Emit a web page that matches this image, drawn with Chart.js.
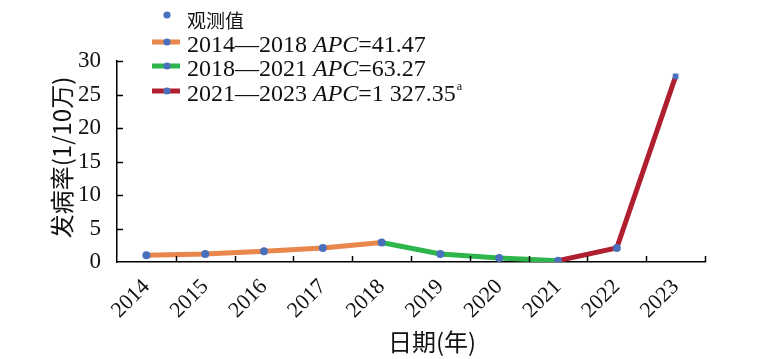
<!DOCTYPE html>
<html>
<head>
<meta charset="utf-8">
<script src="https://cdn.jsdelivr.net/npm/chart.js@4.4.1/dist/chart.umd.min.js"></script>
<style>
  html, body { margin: 0; padding: 0; background: #fff; }
  #wrap { width: 772px; height: 359px; position: relative; }
</style>
</head>
<body>
<div id="wrap"><canvas id="c"></canvas></div>
<script>
// ---- data ----
const years = ['2014', '2015', '2016', '2017', '2018', '2019', '2020', '2021', '2022', '2023'];
const observed = [1.0, 1.2, 1.6, 2.1, 2.9, 1.2, 0.6, 0.2, 2.1, 27.7];
const yTicks = [0, 5, 10, 15, 20, 25, 30];
const segmentPeriods = ['2014—2018', '2018—2021', '2021—2023'];
const segmentAPC = ['41.47', '63.27', '1 327.35'];
const segmentNote = ['', '', 'a'];
const segmentStart = [0, 4, 7];
const segmentEnd = [4, 7, 9];
const observedLabel = '观测值';
const xTitle = '日期(年)';
const yTitle = '发病率(1/10万)';

// ---- styles ----
const BLUE = '#4a70bd';
const SEG_COLORS = ['#e8864c', '#2eb54c', '#b01f30'];
const SERIF = '"Liberation Serif", "Noto Sans CJK SC", serif';
const CJK = '"Noto Sans CJK SC", "Liberation Serif", sans-serif';

const segDatasets = segmentPeriods.map((p, i) => ({
  type: 'line',
  label: p,
  data: observed.map((v, k) => (k >= segmentStart[i] && k <= segmentEnd[i]) ? v : null),
  borderColor: SEG_COLORS[i],
  backgroundColor: SEG_COLORS[i],
  borderWidth: 5,
  pointRadius: 0,
  tension: 0,
  spanGaps: false,
  order: 1 + i
}));

const obsDataset = {
  type: 'line',
  label: observedLabel,
  data: observed,
  showLine: false,
  pointStyle: observed.map((v, k) => k === observed.length - 1 ? 'rect' : 'circle'),
  pointRadius: 4,
  pointBackgroundColor: BLUE,
  pointBorderWidth: 0,
  order: 0
};

const decor = {
  id: 'decor',
  afterDraw(chart) {
    const ctx = chart.ctx;
    const xs = chart.scales.x, ys = chart.scales.y;
    const ca = chart.chartArea;
    ctx.save();
    // inward tick marks
    ctx.strokeStyle = '#000';
    ctx.lineWidth = 1.5;
    ys.ticks.forEach(t => {
      if (t.value === 0) return;
      const py = Math.round(ys.getPixelForValue(t.value)) + 0.5;
      ctx.beginPath(); ctx.moveTo(ca.left, py); ctx.lineTo(ca.left + 6, py); ctx.stroke();
    });
    const n = years.length;
    for (let k = 1; k <= n; k++) {
      const px = Math.round(xs.left + k * xs.width / n) + 0.5;
      ctx.beginPath(); ctx.moveTo(px, ca.bottom); ctx.lineTo(px, ca.bottom - 6); ctx.stroke();
    }
    // axis titles
    ctx.fillStyle = '#111';
    ctx.font = '24px ' + CJK;
    ctx.textAlign = 'center';
    ctx.textBaseline = 'middle';
    ctx.fillText(xTitle, (ca.left + ca.right) / 2 + 21, 342);
    ctx.save();
    ctx.translate(62, (ca.top + ca.bottom) / 2 - 4);
    ctx.rotate(-Math.PI / 2);
    ctx.font = '24px ' + CJK;
    ctx.fillText(yTitle, 0, 0);
    ctx.restore();

    // legend
    ctx.textAlign = 'left';
    ctx.textBaseline = 'middle';
    const lx0 = 152, lx1 = 180, dotX = 167, textX = 187;
    // observed row
    ctx.fillStyle = BLUE;
    ctx.beginPath(); ctx.arc(dotX, 15, 3.6, 0, Math.PI * 2); ctx.fill();
    ctx.fillStyle = '#111';
    ctx.font = '19px ' + CJK;
    ctx.fillText(observedLabel, textX, 21);
    const rowY = [42, 66, 91];
    segmentPeriods.forEach((p, i) => {
      const yy = rowY[i];
      ctx.strokeStyle = SEG_COLORS[i];
      ctx.lineWidth = 5;
      ctx.beginPath(); ctx.moveTo(lx0, yy); ctx.lineTo(lx1, yy); ctx.stroke();
      ctx.fillStyle = BLUE;
      ctx.beginPath(); ctx.arc(dotX, yy, 3.6, 0, Math.PI * 2); ctx.fill();
      ctx.fillStyle = '#111';
      let x = textX;
      const ty = yy + 4;
      ctx.font = '24px ' + SERIF;
      const t1 = p + ' ';
      ctx.fillText(t1, x, ty); x += ctx.measureText(t1).width;
      ctx.font = 'italic 24px ' + SERIF;
      ctx.fillText('APC', x, ty); x += ctx.measureText('APC').width;
      ctx.font = '24px ' + SERIF;
      const t2 = '=' + segmentAPC[i];
      ctx.fillText(t2, x, ty); x += ctx.measureText(t2).width;
      if (segmentNote[i]) {
        ctx.font = '12px ' + SERIF;
        ctx.fillText(segmentNote[i], x + 1, ty - 8);
      }
    });
    ctx.restore();
  }
};

new Chart(document.getElementById('c'), {
  data: {
    labels: years,
    datasets: [obsDataset, ...segDatasets]
  },
  options: {
    responsive: true,
    maintainAspectRatio: false,
    animation: false,
    events: [],
    layout: { padding: { top: 61, right: 67, left: 0, bottom: 0 } },
    plugins: { legend: { display: false }, tooltip: { enabled: false } },
    scales: {
      x: {
        type: 'category',
        offset: true,
        grid: { display: false, offset: true },
        border: { display: true, color: '#000', width: 1.5 },
        ticks: {
          minRotation: 45, maxRotation: 45,
          color: '#111',
          font: { family: SERIF, size: 22 },
          padding: 4,
          autoSkip: false
        },
        afterFit(s) { s.height = 97; }
      },
      y: {
        min: 0, max: 30,
        afterBuildTicks(s) { s.ticks = yTicks.map(v => ({ value: v })); },
        grid: { display: false },
        border: { display: true, color: '#000', width: 1.5 },
        ticks: {
          color: '#111',
          font: { family: SERIF, size: 23 },
          padding: 8
        },
        afterFit(s) { s.width = 117; }
      }
    }
  },
  plugins: [decor]
});
</script>
</body>
</html>
